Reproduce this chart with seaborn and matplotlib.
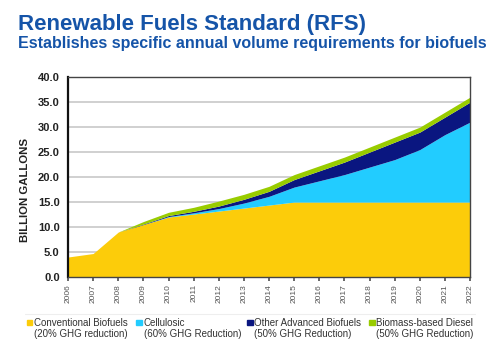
import matplotlib
matplotlib.use("Agg")
import matplotlib.pyplot as plt
import seaborn as sns
import pandas as pd
from matplotlib.patches import Rectangle

years = list(range(2006, 2023))
conventional = [4.0, 4.7, 9.0, 10.5, 12.0, 12.6, 13.2, 13.8, 14.4, 15.0, 15.0, 15.0, 15.0, 15.0, 15.0, 15.0, 15.0]
cellulosic = [0.0, 0.0, 0.0, 0.0, 0.1, 0.25, 0.5, 1.0, 1.75, 3.0, 4.25, 5.5, 7.0, 8.5, 10.5, 13.5, 16.0]
other_adv = [0.0, 0.0, 0.0, 0.1, 0.2, 0.3, 0.5, 0.75, 1.0, 1.5, 2.0, 2.5, 3.0, 3.5, 3.5, 3.5, 4.0]
biodiesel = [0.0, 0.0, 0.0, 0.5, 0.65, 0.8, 1.0, 1.0, 1.0, 1.0, 1.0, 1.0, 1.0, 1.0, 1.0, 1.0, 1.0]
series_names = ["Conventional Biofuels", "Cellulosic", "Other Advanced Biofuels", "Biomass-based Diesel"]
series_sub = ["(20% GHG reduction)", "(60% GHG Reduction)", "(50% GHG Reduction)", "(50% GHG Reduction)"]
colors = ["#FCCC0A", "#22CCFF", "#0A1680", "#99CC00"]

df = pd.DataFrame({"year": years, series_names[0]: conventional, series_names[1]: cellulosic,
                   series_names[2]: other_adv, series_names[3]: biodiesel})

sns.set_theme(style="white")
plt.rcParams['font.family'] = ['Liberation Sans', 'DejaVu Sans']

fig = plt.figure(figsize=(5, 3.64), dpi=100)
ax = fig.add_axes([0.136, 0.239, 0.804, 0.549])

ax.stackplot(df["year"], [df[n] for n in series_names], colors=colors, linewidth=0)

ax.set_xlim(2006, 2022)
ax.set_ylim(0, 40)
yt = [0, 5, 10, 15, 20, 25, 30, 35, 40]
ax.set_yticks(yt)
ax.set_yticklabels([f"{v:.1f}" for v in yt], fontsize=8, fontweight='bold', color='#222222')
ax.set_xticks(years)
ax.set_xticklabels([str(y) for y in years], rotation=90, fontsize=6, color='#555555')
ax.yaxis.grid(True, color='#c8c8c8', linewidth=1.2)
ax.set_axisbelow(True)
ax.tick_params(axis='y', pad=6, length=0)
ax.tick_params(axis='x', pad=2, length=3, color='#555555', bottom=True)
for s in ax.spines.values():
    s.set_color('#444444')
    s.set_linewidth(1.0)
ax.spines['left'].set_color('#111111')
ax.spines['left'].set_linewidth(1.6)
ax.set_ylabel("BILLION GALLONS", fontsize=8.2, fontweight='bold', color='#222222')
ax.yaxis.set_label_coords(-0.095, 0.435)

title_color = "#1554A8"
fig.text(0.036, 0.934, "Renewable Fuels Standard (RFS)", fontsize=16, fontweight='bold',
         color=title_color, va='center', ha='left')
fig.text(0.036, 0.880, "Establishes specific annual volume requirements for biofuels", fontsize=11.5,
         fontweight='bold', color=title_color, va='center', ha='left')

# separator line above legend
fig.add_artist(plt.Line2D([0.05, 0.95], [0.137, 0.137], color='#eeeeee', linewidth=0.8))

leg_x = [0.053, 0.272, 0.494, 0.738]
for i in range(4):
    fig.add_artist(Rectangle((leg_x[i], 0.106), 0.011, 0.015, color=colors[i],
                             transform=fig.transFigure))
    fig.text(leg_x[i] + 0.015, 0.113, series_names[i], fontsize=7, color='#333333', va='center', ha='left')
    fig.text(leg_x[i] + 0.015, 0.083, series_sub[i], fontsize=7, color='#333333', va='center', ha='left')

fig.savefig("out.png", dpi=100)
